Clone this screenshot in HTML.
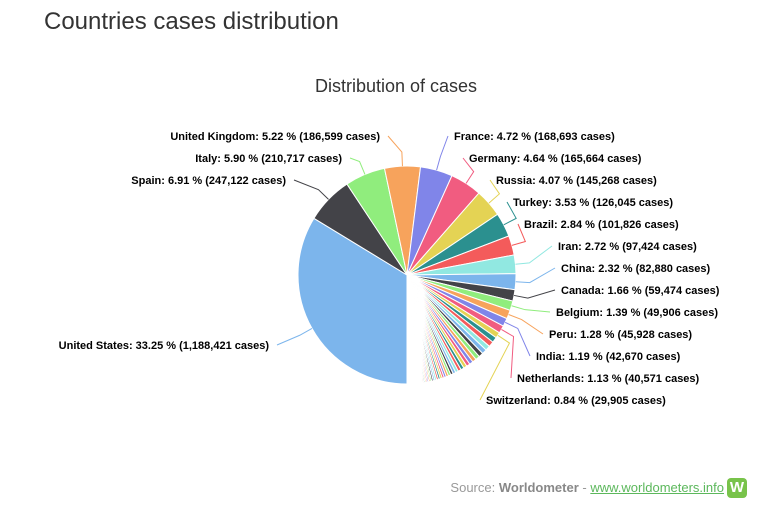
<!DOCTYPE html>
<html><head><meta charset="utf-8"><style>
body{margin:0;width:760px;height:506px;background:#fff;font-family:"Liberation Sans",sans-serif;overflow:hidden;position:relative}
h1{position:absolute;left:44px;top:8px;margin:0;font-weight:normal;font-size:24px;color:#333}
.src{position:absolute;right:36px;top:480px;font-size:13px;color:#999}
.src b{color:#888}.src a{color:#5cb85c;text-decoration:underline}
.logo{position:absolute;left:727px;top:478px;width:20px;height:20px;background:#78c34a;border-radius:4px;color:#fff;font-weight:bold;font-size:15px;text-align:center;line-height:20px}
</style></head><body>
<h1>Countries cases distribution</h1>
<svg id="chart" width="760" height="506" style="position:absolute;left:0;top:0">
<text x="396" y="92" text-anchor="middle" font-size="18" fill="#333">Distribution of cases</text>
</svg>
<div class="src">Source: <b>Worldometer</b> - <a>www.worldometers.info</a></div>
<div class="logo">W</div>
<script>
const countries=["United States","Spain","Italy","United Kingdom","France","Germany","Russia","Turkey","Brazil","Iran","China","Canada","Belgium","Peru","India","Netherlands","Switzerland"];
const shares=[33.25,6.91,5.90,5.22,4.72,4.64,4.07,3.53,2.84,2.72,2.32,1.66,1.39,1.28,1.19,1.13,0.84];
const cases=["1,188,421","247,122","210,717","186,599","168,693","165,664","145,268","126,045","101,826","97,424","82,880","59,474","49,906","45,928","42,670","40,571","29,905"];
const others=[0.80,0.78,0.72,0.70,0.66,0.62,0.58,0.55,0.52,0.50,0.47,0.45,0.42,0.40,0.38,0.36,0.34,0.32,0.30,0.29,0.28,0.27,0.26,0.25,0.24,0.22,0.21,0.20,0.19,0.18,0.17,0.16,0.15,0.14,0.13,0.12,0.11,0.10,0.10,0.09,0.09,0.08,0.08,0.07,0.07,0.06,0.06,0.05,0.05,0.05,0.04,0.04,0.04,0.03,0.03,0.03,0.03,0.03,0.02,0.02,0.02,0.02,0.02,0.02,0.02,0.02,0.02,0.02,0.01,0.01,0.01,0.01,0.01,0.01,0.01,0.01,0.01,0.01,0.01,0.01,0.01,0.01,0.01,0.01,0.01,0.01];
const labelAnchors=[[269,349,"end"],[286,184,"end"],[342,162,"end"],[380,140,"end"],[454,140,"start"],[469,162,"start"],[496,184,"start"],[513,206,"start"],[524,228,"start"],[558,250,"start"],[561,272,"start"],[561,294,"start"],[556,316,"start"],[549,338,"start"],[536,360,"start"],[517,382,"start"],[486,404,"start"]];
const colors=["#7cb5ec","#434348","#90ed7d","#f7a35c","#8085e9","#f15c80","#e4d354","#2b908f","#f45b5b","#91e8e1"];
const svg=document.getElementById('chart');
const NS="http://www.w3.org/2000/svg";
const cx=407,cy=275,R=109;
const vals=shares.concat(others);
const total=vals.reduce((a,b)=>a+b,0);
function pt(a,r){return [cx+r*Math.sin(a),cy-r*Math.cos(a)];}
let ang=Math.PI;
vals.forEach((v,i)=>{
  const a0=ang,a1=ang+v/total*2*Math.PI;ang=a1;
  const p0=pt(a0,R),p1=pt(a1,R);
  const large=(a1-a0)>Math.PI?1:0;
  const path=document.createElementNS(NS,'path');
  path.setAttribute('d',`M${cx},${cy}L${p0[0]},${p0[1]}A${R},${R} 0 ${large} 1 ${p1[0]},${p1[1]}Z`);
  path.setAttribute('fill',colors[i%10]);
  path.setAttribute('stroke','#fff');path.setAttribute('stroke-width','1');
  
  
  svg.appendChild(path);
  if(i<countries.length){
    const am=(a0+a1)/2,e=pt(am,R),m=pt(am,R+14);
    const [lx,ly,anc]=labelAnchors[i];
    const ex=anc==="end"?lx+8:lx-6;
    const line=document.createElementNS(NS,'path');
    line.setAttribute('d',`M${e[0]},${e[1]}L${m[0]},${m[1]}L${ex},${ly-4}`);
    line.setAttribute('fill','none');line.setAttribute('stroke',colors[i%10]);
    
    
    svg.appendChild(line);
    const t=document.createElementNS(NS,'text');
    t.setAttribute('x',lx);t.setAttribute('y',ly);t.setAttribute('text-anchor',anc);
    t.setAttribute('font-size','11');t.setAttribute('font-weight','bold');t.setAttribute('fill','#000');
    t.textContent=`${countries[i]}: ${shares[i].toFixed(2)} % (${cases[i]} cases)`;
    
    
    svg.appendChild(t);
  }
});
</script>
</body></html>
